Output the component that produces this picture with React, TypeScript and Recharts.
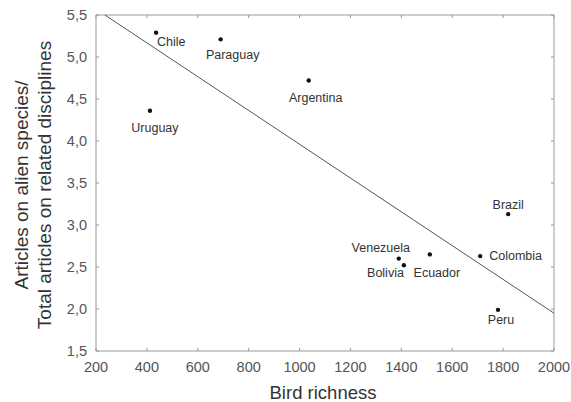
import { Label, ReferenceLine, Scatter, ScatterChart, XAxis, YAxis } from "recharts";

const countries = ["Chile", "Paraguay", "Uruguay", "Argentina", "Brazil", "Venezuela", "Bolivia", "Ecuador", "Colombia", "Peru"];
const birdRichness = [436, 690, 412, 1036, 1820, 1390, 1410, 1512, 1710, 1780];
const articleRatio = [5.29, 5.21, 4.36, 4.72, 3.13, 2.6, 2.52, 2.65, 2.63, 1.99];

// fitted regression line, end points
const fitX = [235, 2000];
const fitY = [5.5, 1.95];

const xTicks = [200, 400, 600, 800, 1000, 1200, 1400, 1600, 1800, 2000];
const yTicks = [1.5, 2, 2.5, 3, 3.5, 4, 4.5, 5, 5.5];

const font = '"Liberation Sans", Arial, sans-serif';
const frame = "#999";

const W = 571;
const H = 402;
const margin = { top: 15, right: 17, bottom: 0, left: 0 };
const plotTop = margin.top;
const plotRight = W - margin.right;

const points = countries.map((name, i) => ({ name, x: birdRichness[i], y: articleRatio[i] }));
const fit = fitX.map((x, i) => ({ x, y: fitY[i] }));

// where each country name sits relative to its dot
const labelPlace: Record<string, { dx: number; dy: number; anchor: string }> = {
  Chile: { dx: 1, dy: 9, anchor: "start" },
  Paraguay: { dx: 12, dy: 16, anchor: "middle" },
  Uruguay: { dx: 5, dy: 17, anchor: "middle" },
  Argentina: { dx: 7, dy: 17, anchor: "middle" },
  Brazil: { dx: 0, dy: -9, anchor: "middle" },
  Venezuela: { dx: -18, dy: -11, anchor: "middle" },
  Bolivia: { dx: 0, dy: 8, anchor: "end" },
  Ecuador: { dx: 7, dy: 19, anchor: "middle" },
  Colombia: { dx: 9, dy: 0, anchor: "start" },
  Peru: { dx: 3, dy: 10, anchor: "middle" },
};

// bottom tick label + the matching inward tick on the top border
function XTick(props: any) {
  const { x, y, payload } = props;
  return (
    <g>
      <line x1={x} x2={x} y1={plotTop} y2={plotTop + 3} stroke={frame} />
      <text x={x} y={y} dy="0.71em" textAnchor="middle" fill="#555" fontSize={14.5} fontFamily={font}>
        {payload.value}
      </text>
    </g>
  );
}

// left tick label + the matching inward tick on the right border
function YTick(props: any) {
  const { x, y, payload } = props;
  return (
    <g>
      <line x1={plotRight} x2={plotRight - 3} y1={y} y2={y} stroke={frame} />
      <text x={x} y={y} dy="0.355em" textAnchor="end" fill="#555" fontSize={14.5} fontFamily={font}>
        {payload.value.toFixed(1).replace(".", ",")}
      </text>
    </g>
  );
}

function CountryDot(props: any) {
  const { cx, cy, payload } = props;
  const p = labelPlace[payload.name] ?? { dx: 0, dy: 10, anchor: "middle" };
  return (
    <g>
      <circle cx={cx} cy={cy} r={2.2} fill="#111" />
      <text
        x={cx + p.dx}
        y={cy + p.dy}
        textAnchor={p.anchor as any}
        dominantBaseline="central"
        fontSize={12.5}
        fill="#333"
        fontFamily={font}
      >
        {payload.name}
      </text>
    </g>
  );
}

function YTitle(props: any) {
  const vb = props.viewBox;
  const cy = vb.y + vb.height / 2 + 2;
  const common = { textAnchor: "middle" as const, dominantBaseline: "central", fontSize: 19, fill: "#333", fontFamily: font };
  return (
    <g>
      <text {...common} transform={`translate(21, ${cy}) rotate(-90)`}>
        Articles on alien species/
      </text>
      <text {...common} transform={`translate(44, ${cy}) rotate(-90)`}>
        Total articles on related disciplines
      </text>
    </g>
  );
}

export default function App() {
  return (
    <div style={{ position: "absolute", left: 0, top: 0, background: "#fff" }}>
      <ScatterChart width={W} height={H} margin={margin}>
        <XAxis
          dataKey="x"
          type="number"
          domain={[200, 2000]}
          ticks={xTicks}
          height={51}
          stroke={frame}
          tickSize={-3}
          tickMargin={14}
          tick={XTick}
        >
          <Label
            value="Bird richness"
            position="insideBottom"
            offset={3}
            dx={-2}
            style={{ fill: "#333", fontSize: 18.5, fontFamily: font }}
          />
        </XAxis>
        <YAxis
          dataKey="y"
          type="number"
          domain={[1.5, 5.5]}
          ticks={yTicks}
          width={96}
          stroke={frame}
          tickSize={-3}
          tickMargin={12}
          tick={YTick}
        >
          <Label content={YTitle} />
        </YAxis>
        <ReferenceLine y={5.5} stroke={frame} />
        <ReferenceLine x={2000} stroke={frame} />
        <Scatter
          data={fit}
          line={{ stroke: "#555", strokeWidth: 1 }}
          shape={() => <g />}
          isAnimationActive={false}
        />
        <Scatter data={points} shape={CountryDot} isAnimationActive={false} />
      </ScatterChart>
    </div>
  );
}
